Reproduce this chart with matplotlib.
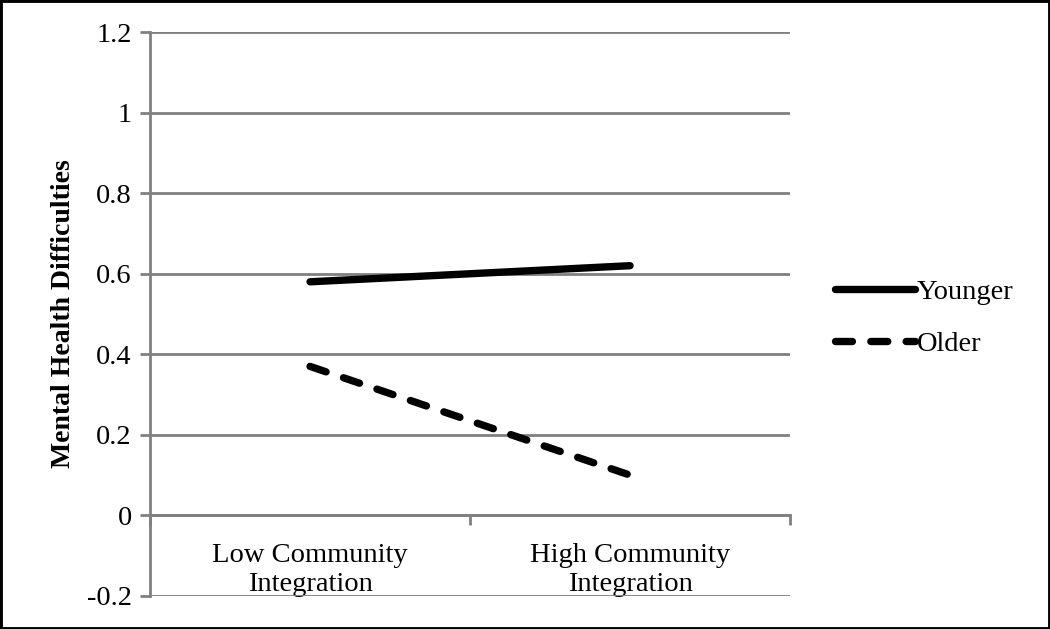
import matplotlib
matplotlib.use("Agg")
import matplotlib.pyplot as plt
from matplotlib.patches import Rectangle

plt.rcParams["font.family"] = ["Liberation Serif", "DejaVu Serif"]

# data
categories = ["Low Community\nIntegration", "High Community\nIntegration"]
younger = [0.58, 0.62]
older = [0.37, 0.10]
yticks = [-0.2, 0, 0.2, 0.4, 0.6, 0.8, 1, 1.2]
ytick_labels = ["-0.2", "0", "0.2", "0.4", "0.6", "0.8", "1", "1.2"]

grid_col = "#808080"

fig = plt.figure(figsize=(10.5, 6.29), dpi=100)
ax = fig.add_axes([0.1429, 0.0525, 0.6095, 0.8965])

x_pos = [0.5, 1.5]
ax.plot(x_pos, younger, color="black", lw=5.3, solid_capstyle="round", label="Younger")
ax.plot(x_pos, older, color="black", lw=5.3, linestyle=(0, (2.3, 2.5)),
        dash_capstyle="round", label="Older")

ax.set_xlim(0, 2)
ax.set_ylim(-0.2, 1.2)
ax.set_yticks(yticks)
ax.set_yticklabels(ytick_labels, fontsize=20.5)
ax.yaxis.grid(True, color=grid_col, lw=2)
ax.set_axisbelow(True)

for s in ["top", "right"]:
    ax.spines[s].set_visible(False)
ax.spines["left"].set_color(grid_col)
ax.spines["left"].set_linewidth(2)
ax.spines["bottom"].set_position(("data", 0))
ax.spines["bottom"].set_color(grid_col)
ax.spines["bottom"].set_linewidth(2)

ax.tick_params(axis="y", length=7, width=2, color=grid_col, pad=6)
ax.set_xticks([0, 1, 2])
ax.set_xticklabels([])
ax.tick_params(axis="x", which="major", length=7, width=2, color=grid_col, direction="out")
ax.set_xticks(x_pos, minor=True)
ax.set_xticklabels(categories, minor=True, fontsize=20.5, linespacing=1.2)
ax.tick_params(axis="x", which="minor", length=0, pad=20)

ax.set_ylabel("Mental Health Difficulties", fontsize=20, fontweight="bold", labelpad=8)

fig.legend(loc="center left", bbox_to_anchor=(0.782, 0.494), frameon=False,
           fontsize=20.5, handlelength=2.8, handletextpad=0.05, labelspacing=0.9,
           borderpad=0)

fig.patches.append(Rectangle((0, 0), 1, 1, transform=fig.transFigure,
                             fill=False, edgecolor="black", lw=3.5))

fig.savefig("out.png", dpi=100)
